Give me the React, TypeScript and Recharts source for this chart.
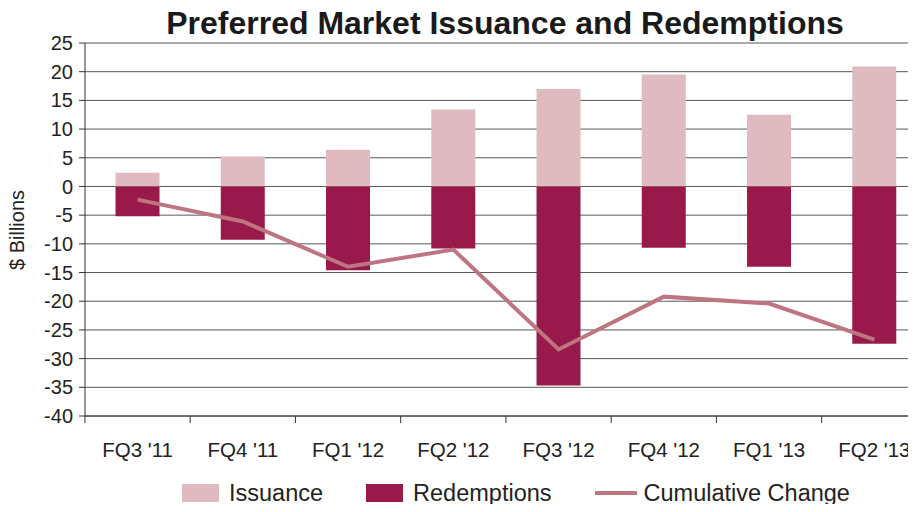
import React from 'react';
import { ComposedChart, Bar, Line, XAxis, YAxis, CartesianGrid } from 'recharts';

const quarters = ["FQ3 '11", "FQ4 '11", "FQ1 '12", "FQ2 '12", "FQ3 '12", "FQ4 '12", "FQ1 '13", "FQ2 '13"];
const issuance = [2.4, 5.2, 6.4, 13.4, 17.0, 19.5, 12.5, 20.9];
const redemptions = [-5.2, -9.3, -14.6, -10.8, -34.7, -10.7, -14.0, -27.4];
const cumulative = [-2.3, -6.1, -14.0, -11.0, -28.4, -19.2, -20.4, -26.7];
const yTicks = [-40, -35, -30, -25, -20, -15, -10, -5, 0, 5, 10, 15, 20, 25];

const data = quarters.map((q, i) => ({
  q,
  issuance: issuance[i],
  redemptions: redemptions[i],
  cumulative: cumulative[i],
}));

const FONT = '"Liberation Sans", Arial, Helvetica, sans-serif';
const ISS = '#dfbac0';
const RED = '#991a4a';
const CUM = '#bd7582';
const HALF_BAND = 52.7;

const XTick = (props: any) => {
  const { x, y, payload } = props;
  return (
    <g>
      <line x1={x - HALF_BAND} x2={x - HALF_BAND} y1={y - 8} y2={y - 1} stroke="#333" strokeWidth={1} />
      <text x={x} y={y + 33} textAnchor="middle" fontSize={20.5} fill="#222" fontFamily={FONT}>
        {payload.value}
      </text>
    </g>
  );
};

const ChartLegend = () => (
  <div
    style={{
      position: 'absolute',
      left: 174,
      top: 473,
      display: 'flex',
      alignItems: 'center',
      fontFamily: FONT,
      fontSize: 23.5,
      lineHeight: '24px',
      color: '#222',
      height: 24,
      whiteSpace: 'nowrap',
    }}
  >
    <span style={{ width: 37, height: 18, background: ISS, display: 'inline-block', marginRight: 10 }} />
    <span style={{ marginRight: 43 }}>Issuance</span>
    <span style={{ width: 37, height: 18, background: RED, display: 'inline-block', marginRight: 10 }} />
    <span style={{ marginRight: 43 }}>Redemptions</span>
    <span style={{ width: 42, height: 4, background: CUM, display: 'inline-block', marginRight: 7 }} />
    <span>Cumulative Change</span>
  </div>
);

export default function App() {
  return (
    <div style={{ width: 908, height: 496, position: 'relative' }}>
      <ComposedChart
        width={908}
        height={504}
        data={data}
        stackOffset="sign"
        barCategoryGap="29%"
        margin={{ top: 35, right: -11, bottom: 66, left: 0 }}
      >
        <text x={497} y={26} textAnchor="middle" fontSize={32} fontWeight="bold" fill="#1a1a1a" fontFamily={FONT}>
          Preferred Market Issuance and Redemptions
        </text>
        <CartesianGrid vertical={false} stroke="#3a3a3a" strokeOpacity={0.85} />
        <XAxis dataKey="q" height={30} tick={<XTick />} tickLine={false} axisLine={{ stroke: '#333' }} interval={0} />
        <YAxis
          domain={[-40, 25]}
          ticks={yTicks}
          width={77}
          tickSize={6}
          tickMargin={6}
          tick={{ fontSize: 20, fill: '#222', fontFamily: FONT }}
          axisLine={{ stroke: '#333' }}
          tickLine={{ stroke: '#333' }}
          interval={0}
          label={{
            content: () => (
              <text
                x={16}
                y={222}
                transform="rotate(-90 16 222)"
                textAnchor="middle"
                fontSize={20}
                fill="#222"
                fontFamily={FONT}
              >
                $ Billions
              </text>
            ),
          }}
        />
        <Bar dataKey="issuance" stackId="a" fill={ISS} isAnimationActive={false} />
        <Bar dataKey="redemptions" stackId="a" fill={RED} isAnimationActive={false} />
        <Line type="linear" dataKey="cumulative" stroke={CUM} strokeWidth={4} dot={false} isAnimationActive={false} />
      </ComposedChart>
      <ChartLegend />
    </div>
  );
}
